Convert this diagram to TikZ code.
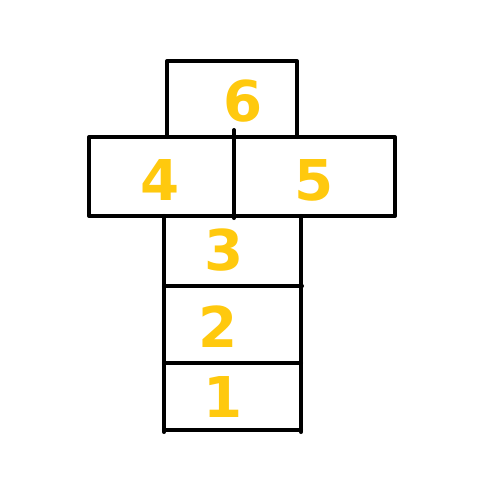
\documentclass[tikz,border=0pt]{standalone}
\usepackage{fontspec}
\setsansfont{DejaVu Sans}
\definecolor{hopyellow}{RGB}{255,201,14}

\begin{document}
\begin{tikzpicture}[x=0.02cm,y=-0.02cm,
		chalk/.style={line width=2.3pt,line cap=round,line join=round,color=black},
		digit/.style={color=hopyellow,font=\sffamily\bfseries\fontsize{32}{32}\selectfont,inner sep=0pt}]
			\useasboundingbox (0,0) rectangle (500,500);
			
			% top square
			\draw[chalk] (167,137) -- (167,61) -- (297,61) -- (297,137);
			% row of two
			\draw[chalk] (89,137) rectangle (395,216);
			\draw[chalk] (234,130) -- (234,218);
			% column
			\draw[chalk] (164,216) -- (164,432);
			\draw[chalk] (301,216) -- (301,432);
			\draw[chalk] (164,286) -- (302,286);
			\draw[chalk] (164,363) -- (301,363);
			\draw[chalk] (164,430) -- (301,430);
			
			\node[digit] (n6) at (243,101){6};
			\node[digit] (n4) at (160,180){4};
			\node[digit] (n5) at (314,180){5};
			\node[digit] (n3) at (224,250){3};
			\node[digit] (n2) at (218,327){2};
			\node[digit] (n1) at (223,397){1};
		\end{tikzpicture}
\end{document}
